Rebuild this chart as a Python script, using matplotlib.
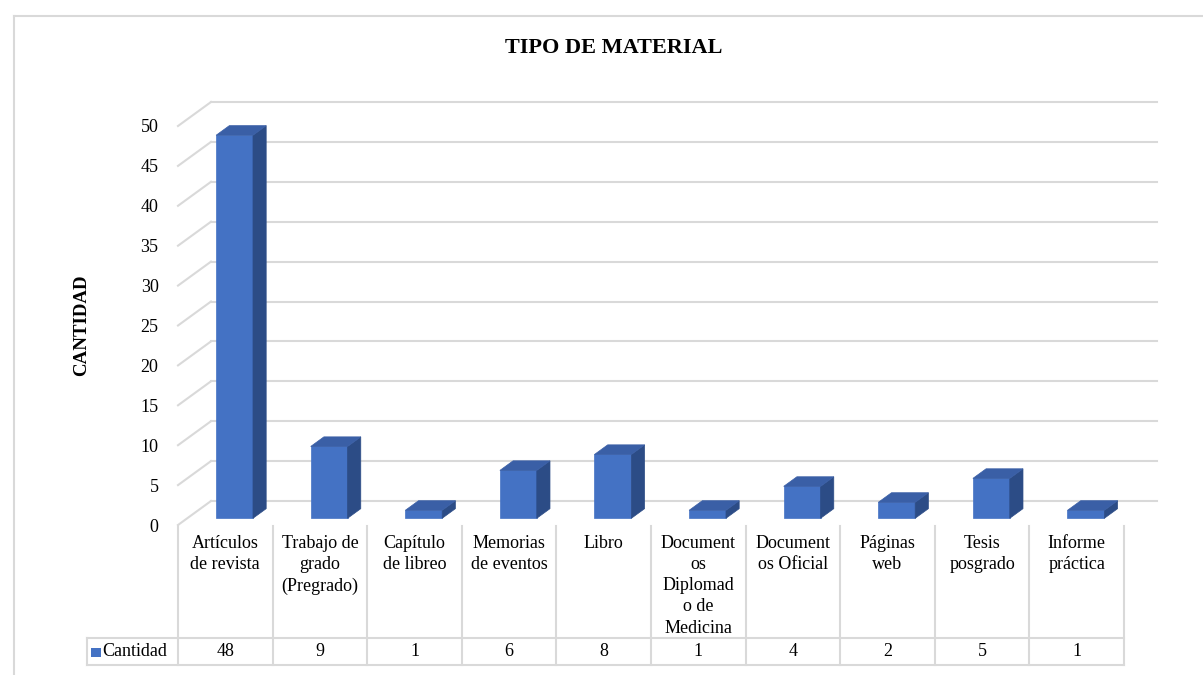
import matplotlib.pyplot as plt
from matplotlib.patches import Polygon, Rectangle
from matplotlib.lines import Line2D
from matplotlib import transforms

# data
categories = ['Artículos\nde revista', 'Trabajo de\ngrado\n(Pregrado)', 'Capítulo\nde libreo',
              'Memorias\nde eventos', 'Libro', 'Document\nos\nDiplomad\no de\nMedicina',
              'Document\nos Oficial', 'Páginas\nweb', 'Tesis\nposgrado', 'Informe\npráctica']
cantidad = [48, 9, 1, 6, 8, 1, 4, 2, 5, 1]
yticks = list(range(0, 51, 5))
series_name = 'Cantidad'

plt.rcParams['font.family'] = ['Liberation Serif', 'DejaVu Serif']

W, H = 1203, 675
fig = plt.figure(figsize=(W / 100, H / 100), dpi=100)

# axes: front plane, x in category units, y in value units
px_x, px_y = 94.6, 7.98
ax = fig.add_axes([178 / W, 1 - 525 / H, (1160 - 178) / W, (525 - 90) / H])
ax.set_xlim(0, (1160 - 178) / px_x)
ax.set_ylim(0, (525 - 90) / px_y)
for s in ax.spines.values():
    s.set_visible(False)
ax.set_xticks([])
ax.set_yticks(yticks)
ax.tick_params(axis='y', length=0, pad=14, labelsize=13)

n = len(categories)
grid_c = '#D9D9D9'
# depth of the 3D box (data units)
ddx, ddy = 33 / px_x, 24 / px_y

for v in yticks:
    ax.plot([0, ddx], [v, v + ddy], color=grid_c, lw=1.5, clip_on=False, zorder=1)
    ax.plot([ddx, n + ddx], [v + ddy, v + ddy], color=grid_c, lw=1.5, clip_on=False, zorder=1)

# bars
bw = 0.39
f0, f1 = 0.28, 0.68
front_c, top_c, side_c = '#4472C4', '#3A5FA6', '#2C4C86'
for i, val in enumerate(cantidad):
    x0 = i + 0.5 - bw / 2 + f0 * ddx
    x1 = x0 + bw
    y0 = f0 * ddy
    y1 = val + y0
    ox, oy = (f1 - f0) * ddx, (f1 - f0) * ddy
    front = Polygon([[x0, y0], [x1, y0], [x1, y1], [x0, y1]], closed=True,
                    fc=front_c, ec=front_c, lw=0.5, zorder=3, clip_on=False)
    side = Polygon([[x1, y0], [x1 + ox, y0 + oy], [x1 + ox, y1 + oy], [x1, y1]], closed=True,
                   fc=side_c, ec=side_c, lw=0.5, zorder=3, clip_on=False)
    top = Polygon([[x0, y1], [x1, y1], [x1 + ox, y1 + oy], [x0 + ox, y1 + oy]], closed=True,
                  fc=top_c, ec=top_c, lw=0.5, zorder=3, clip_on=False)
    for p in (front, side, top):
        ax.add_patch(p)

# data table below the plot
tr = transforms.blended_transform_factory(ax.transData, fig.transFigure)
fy = lambda p: 1 - p / H
tbl_c = '#D9D9D9'
for i in range(n + 1):
    ax.add_line(Line2D([i, i], [fy(526), fy(665)], transform=tr, color=tbl_c, lw=1.5, clip_on=False))
leg_left = -(178 - 87) / px_x
for yy in (638, 665):
    ax.add_line(Line2D([leg_left, n], [fy(yy), fy(yy)], transform=tr, color=tbl_c, lw=1.5, clip_on=False))
ax.add_line(Line2D([leg_left, leg_left], [fy(638), fy(665)], transform=tr, color=tbl_c, lw=1.5, clip_on=False))

for i, (cat, val) in enumerate(zip(categories, cantidad)):
    ax.text(i + 0.5, fy(535), cat, transform=tr, ha='center', va='top', fontsize=13,
            linespacing=1.32, clip_on=False)
    ax.text(i + 0.5, fy(652), str(val), transform=tr, ha='center', va='center', fontsize=13,
            clip_on=False)

fig.patches.append(Rectangle((91 / W, fy(657)), 9.5 / W, 9.5 / H, transform=fig.transFigure,
                             fc=front_c, ec='none'))
fig.text(102 / W, fy(652), series_name, ha='left', va='center', fontsize=13)

# titles
fig.text(614 / W, fy(48), 'TIPO DE MATERIAL', ha='center', va='center', fontsize=16,
         fontweight='bold')
fig.text(82 / W, fy(325), 'CANTIDAD', ha='center', va='center', rotation=90, fontsize=13.6,
         fontweight='bold')

# outer chart frame
fig.add_artist(Line2D([14 / W, 14 / W], [fy(16), 0], transform=fig.transFigure, color='#D9D9D9', lw=1.5))
fig.add_artist(Line2D([14 / W, 1], [fy(16), fy(16)], transform=fig.transFigure, color='#D9D9D9', lw=1.5))

fig.savefig('out.png', dpi=100)
